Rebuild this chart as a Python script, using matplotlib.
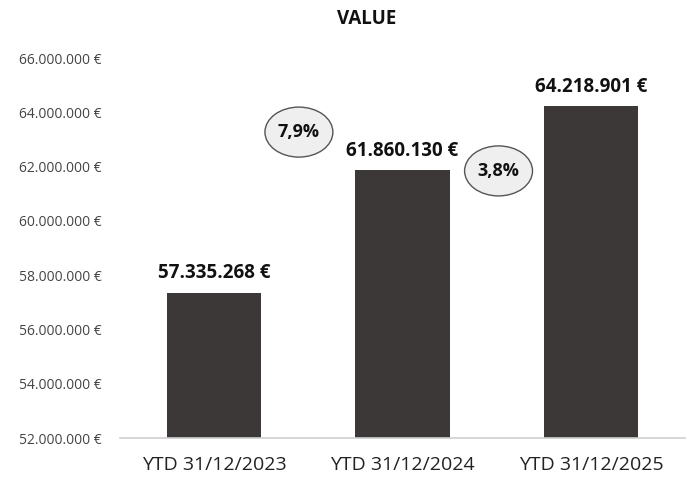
import matplotlib
matplotlib.use("Agg")
import matplotlib.pyplot as plt
from matplotlib.patches import Ellipse
from matplotlib.ticker import FuncFormatter

categories = ["YTD 31/12/2023", "YTD 31/12/2024", "YTD 31/12/2025"]
values = [57335268, 61860130, 64218901]
growth_labels = ["7,9%", "3,8%"]
yticks = [52000000, 54000000, 56000000, 58000000, 60000000, 62000000, 64000000, 66000000]

def eur(v):
    return f"{int(round(v)):,}".replace(",", ".") + " €"

plt.rcParams['font.family'] = ['Open Sans', 'DejaVu Sans']

fig = plt.figure(figsize=(6.91, 4.86), dpi=100)
ax = fig.add_axes([120/691, 1-438/486, 565/691, 380/486])

x = list(range(len(categories)))
ax.bar(x, values, width=0.5, color="#3b3837", zorder=2)
ax.set_xlim(-0.5, 2.5)
ax.set_ylim(52000000, 66000000)
ax.set_yticks(yticks)
ax.yaxis.set_major_formatter(FuncFormatter(lambda v, p: eur(v)))
ax.set_xticks(x)
ax.set_xticklabels(categories, fontsize=14, color="#222222")
ax.tick_params(axis='y', length=0, labelsize=10, labelcolor="#444444", pad=13)
ax.tick_params(axis='x', length=0, pad=13)
for s in ["top", "right", "left"]:
    ax.spines[s].set_visible(False)
ax.spines["bottom"].set_color("#d0d0d0")
ax.spines["bottom"].set_linewidth(1.2)

for xi, v in zip(x, values):
    ax.annotate(eur(v), (xi, v), xytext=(0, 7), textcoords="offset points",
                ha="center", va="bottom", fontsize=13.5, fontweight="bold", color="#111111")

# growth bubbles
bubble_x = [0.45, 1.51]
bubble_y = [63270000, 61840000]
for bx, by, lab in zip(bubble_x, bubble_y, growth_labels):
    e = Ellipse((bx, by), width=68/188.5, height=50/27.14*1e6,
                facecolor="#efefef", edgecolor="#555555", linewidth=1.0, zorder=3)
    ax.add_patch(e)
    ax.text(bx, by, lab, ha="center", va="center", fontsize=13, fontweight="bold",
            color="#111111", zorder=4)

fig.text(367/691, 1 - 18.5/486, "VALUE", ha="center", va="center", fontsize=13.5,
         fontweight="bold", color="#111111")

fig.savefig("out.png", dpi=100)
